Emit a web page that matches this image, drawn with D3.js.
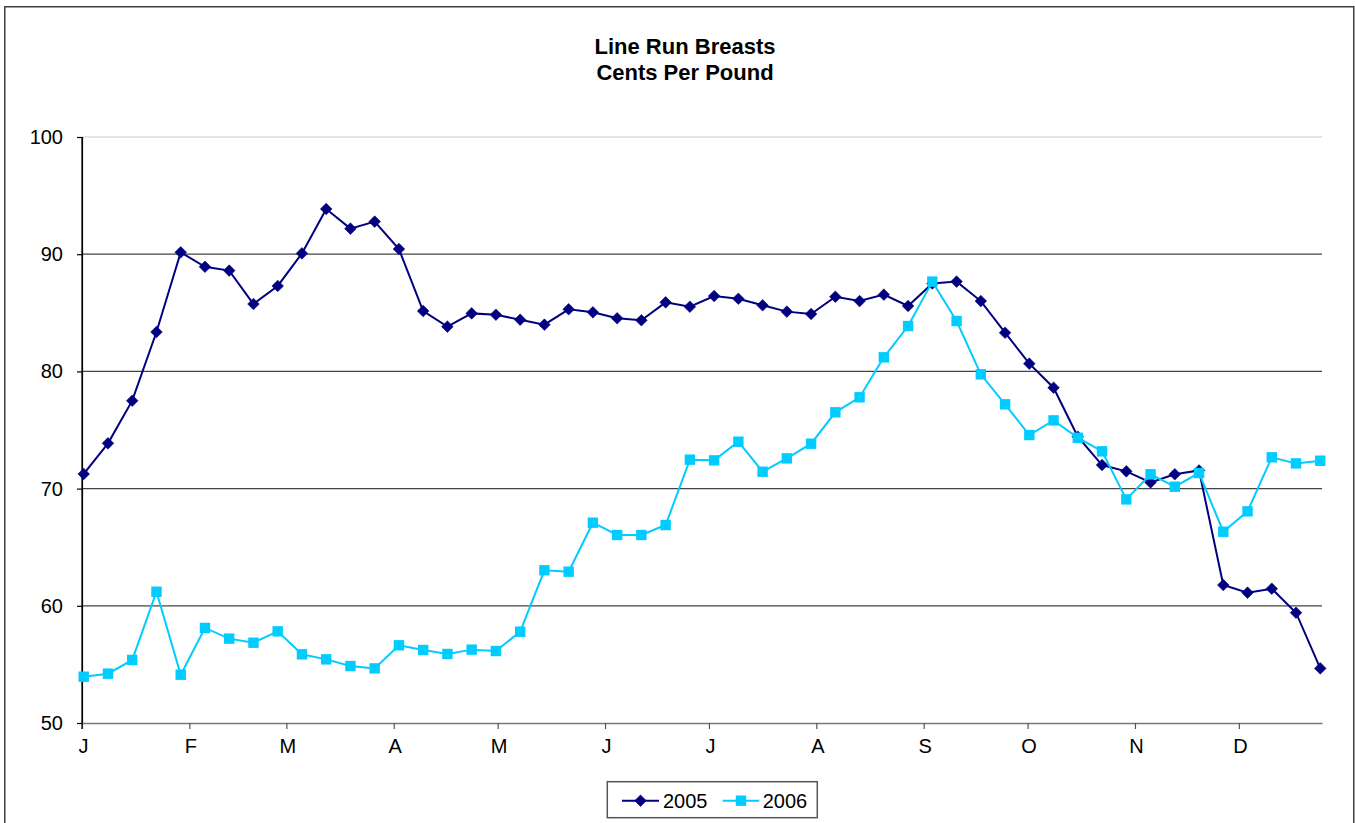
<!DOCTYPE html>
<html>
<head>
<meta charset="utf-8">
<script src="https://cdn.jsdelivr.net/npm/d3@7/dist/d3.min.js"></script>
<style>
  html, body { margin: 0; padding: 0; background: #fff; }
  svg { display: block; font-family: "Liberation Sans", Arial, sans-serif; }
</style>
</head>
<body>
<svg id="chart" width="1355" height="823"></svg>
<script>
// ---- data ----
const titleLines = ["Line Run Breasts", "Cents Per Pound"];
const seriesNames = ["2005", "2006"];
const monthLabels = ["J","F","M","A","M","J","J","A","S","O","N","D"];
const yTicks = [50, 60, 70, 80, 90, 100];
// weekly observations, first week starting Jan 1
const weekCount = 52;
const values2005 = [
  71.25, 73.86, 77.5, 83.36, 90.16, 88.93, 88.6, 85.75, 87.29, 90.07,
  93.86, 92.18, 92.78, 90.44, 85.15, 83.82, 84.95, 84.84, 84.41, 83.99,
  85.3, 85.04, 84.53, 84.36, 85.89, 85.52, 86.43, 86.2, 85.64, 85.1,
  84.9, 86.37, 86.0, 86.55, 85.58, 87.5, 87.66, 86.0, 83.3, 80.66,
  78.61, 74.43, 72.01, 71.47, 70.53, 71.22, 71.55, 61.77, 61.12, 61.46,
  59.41, 54.66
];
const values2006 = [
  53.95, 54.21, 55.38, 61.2, 54.12, 58.11, 57.2, 56.85, 57.82, 55.86,
  55.43, 54.86, 54.66, 56.63, 56.23, 55.89, 56.26, 56.14, 57.79, 63.03,
  62.91, 67.09, 66.04, 66.04, 66.89, 72.47, 72.41, 74.0, 71.44, 72.58,
  73.83, 76.51, 77.79, 81.2, 83.87, 87.66, 84.3, 79.75, 77.19, 74.57,
  75.82, 74.34, 73.18, 69.08, 71.22, 70.16, 71.33, 66.32, 68.06, 72.67,
  72.15, 72.38
];

// ---- build ----
const dates = d3.range(weekCount).map(i => d3.timeDay.offset(new Date(2005, 0, 1), 7 * i));
const series = [
  { name: seriesNames[0], values: values2005, color: "#000080", marker: "diamond" },
  { name: seriesNames[1], values: values2006, color: "#00CCFF", marker: "square" }
];

const svg = d3.select("#chart");

// outer chart border
svg.append("rect")
  .attr("x", 4.75).attr("y", 6.75)
  .attr("width", 1349).attr("height", 840)
  .attr("fill", "#fff")
  .attr("stroke", "#404040").attr("stroke-width", 1.5);

const plot = { left: 82, right: 1322, top: 137, bottom: 723 };

const x = d3.scaleTime()
  .domain([new Date(2005, 0, 1), d3.timeDay.offset(dates[dates.length - 1], 1)])
  .range([plot.left, plot.right]);
const y = d3.scaleLinear().domain([50, 100]).range([plot.bottom, plot.top]);
const xPos = d => x(d3.timeHour.offset(d, 12));

// gridlines
svg.append("g").selectAll("line")
  .data(yTicks.filter(t => t > 50))
  .join("line")
  .attr("x1", plot.left).attr("x2", plot.right)
  .attr("y1", d => y(d)).attr("y2", d => y(d))
  .attr("stroke", d => d === 100 ? "#dcdcdc" : "#444")
  .attr("stroke-width", 1.3);

// y axis
const yAxis = svg.append("g")
  .attr("transform", `translate(${plot.left},0)`)
  .call(d3.axisLeft(y).tickValues(yTicks).tickSize(5).tickPadding(14).tickFormat(d3.format("d")));
yAxis.select(".domain").attr("stroke", "#000").attr("stroke-width", 1.2);
yAxis.selectAll(".tick line").attr("stroke", "#000").attr("stroke-width", 1.2);
yAxis.selectAll("text").attr("font-size", 20).attr("fill", "#000")
  .attr("font-family", '"Liberation Sans", Arial, sans-serif');

// x axis
const monthTicks = d3.timeMonth.range(new Date(2005, 0, 1), new Date(2005, 11, 2));
const xAxis = svg.append("g")
  .attr("transform", `translate(0,${plot.bottom})`)
  .call(d3.axisBottom(x).tickValues(monthTicks).tickSize(6).tickSizeOuter(0).tickPadding(10)
    .tickFormat((d, i) => monthLabels[i]));
xAxis.select(".domain").attr("stroke", "#7a7a7a").attr("stroke-width", 1.6);
xAxis.selectAll(".tick line").attr("stroke", "#555").attr("stroke-width", 1.2);
xAxis.selectAll("text").attr("font-size", 20).attr("fill", "#000").attr("dx", 1)
  .attr("font-family", '"Liberation Sans", Arial, sans-serif');
// redraw y axis line on top at the corner
svg.append("line")
  .attr("x1", plot.left).attr("x2", plot.left)
  .attr("y1", plot.top).attr("y2", plot.bottom + 6)
  .attr("stroke", "#000").attr("stroke-width", 1.2);

// markers
function drawMarker(g, type, color, cx, cy) {
  if (type === "diamond") {
    const r = 5.8;
    g.append("path")
      .attr("d", `M${cx},${cy - r}L${cx + r},${cy}L${cx},${cy + r}L${cx - r},${cy}Z`)
      .attr("fill", color).attr("stroke", color).attr("stroke-width", 0.6);
  } else {
    const s = 10.4;
    g.append("rect")
      .attr("x", cx - s / 2).attr("y", cy - s / 2)
      .attr("width", s).attr("height", s)
      .attr("fill", color);
  }
}

const line = d3.line().x((v, i) => xPos(dates[i])).y(v => y(v));

// draw 2006 first? In reference, 2006 squares drawn over 2005 diamonds
series.forEach(s => {
  const g = svg.append("g");
  g.append("path")
    .datum(s.values)
    .attr("d", line)
    .attr("fill", "none")
    .attr("stroke", s.color)
    .attr("stroke-width", 2);
  s.values.forEach((v, i) => drawMarker(g, s.marker, s.color, xPos(dates[i]), y(v)));
});

// title
svg.append("g").selectAll("text")
  .data(titleLines)
  .join("text")
  .attr("x", 685).attr("y", (d, i) => 54 + i * 26)
  .attr("text-anchor", "middle")
  .attr("font-size", 22).attr("font-weight", "bold").attr("fill", "#000")
  .text(d => d);

// legend
const lg = svg.append("g");
lg.append("rect")
  .attr("x", 607.3).attr("y", 781.7).attr("width", 210).attr("height", 36)
  .attr("fill", "#fff").attr("stroke", "#555").attr("stroke-width", 1.5);
const legendItems = [
  { s: series[0], x0: 622, x1: 659, tx: 663 },
  { s: series[1], x0: 722.7, x1: 759.3, tx: 762.7 }
];
legendItems.forEach(it => {
  const cy = 800.7;
  lg.append("line").attr("x1", it.x0).attr("x2", it.x1).attr("y1", cy).attr("y2", cy)
    .attr("stroke", it.s.color).attr("stroke-width", 2);
  drawMarker(lg, it.s.marker, it.s.color, (it.x0 + it.x1) / 2, cy);
  lg.append("text").attr("x", it.tx).attr("y", 807.5)
    .attr("font-size", 20).attr("fill", "#000").text(it.s.name);
});
</script>
</body>
</html>
